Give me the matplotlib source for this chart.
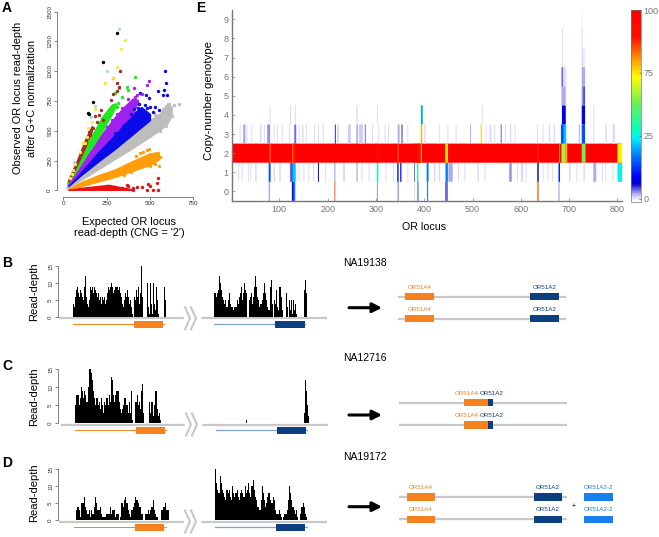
import matplotlib
matplotlib.use("Agg")
import matplotlib.pyplot as plt
import numpy as np
from matplotlib.colors import LinearSegmentedColormap, Normalize
from matplotlib.cm import ScalarMappable

plt.rcParams["font.family"] = ["Liberation Sans", "DejaVu Sans"]

W, H = 659, 537
ORANGE = "#f5821f"
NAVY = "#0b3f80"
LBLUE = "#1a80f0"
GREY = "#c8c8c8"

# --- panel A: envelopes of the dense clouds
gray_x = [20, 100, 200, 300, 400, 500, 560, 600, 625]
gray_lo = [15, 85, 175, 265, 355, 450, 510, 560, 640]
gray_hi = [30, 125, 240, 350, 470, 590, 650, 730, 700]
orange_x = [30, 100, 200, 300, 400, 500, 550]
orange_lo = [8, 35, 75, 115, 165, 215, 260]
orange_hi = [18, 65, 125, 175, 245, 310, 320]
red_x = [30, 100, 200, 260, 320, 400]
red_hi = [5, 20, 36, 46, 30, 8]
blue_x = [30, 100, 200, 300, 400, 450, 500]
blue_lo = [36, 125, 240, 350, 470, 530, 590]
blue_hi = [50, 170, 340, 490, 640, 700, 640]
purple_x = [25, 100, 200, 300, 350, 400, 430]
purple_lo = [40, 165, 335, 485, 570, 640, 740]
purple_hi = [60, 215, 430, 620, 700, 770, 760]
green_x = [25, 80, 130, 180, 230, 280, 300]
green_lo = [58, 175, 290, 395, 510, 640, 700]
green_hi = [75, 215, 365, 500, 630, 720, 730]
brown_x = [30, 80, 130, 165]
brown_lo = [75, 215, 375, 500]
brown_hi = [90, 255, 440, 540]

blue_pts = [(589, 1000), (593, 899), (548, 837), (581, 843), (577, 800), (596, 800), (477, 800), (497, 773),
            (443, 815), (500, 703), (529, 703), (554, 675), (439, 725), (462, 647), (419, 647), (480, 690),
            (430, 690), (445, 660), (410, 680), (390, 640), (470, 720), (350, 550), (300, 480), (515, 660)]
purple_pts = [(496, 921), (485, 885), (408, 857), (452, 809), (414, 787), (385, 731), (356, 689), (400, 760),
              (375, 770), (340, 690), (310, 640), (280, 590), (250, 530), (425, 800)]
green_pts = [(414, 955), (366, 871), (375, 843), (323, 857), (298, 815), (337, 781), (318, 731), (288, 689),
             (269, 647), (300, 720), (310, 700), (255, 620), (225, 610), (205, 540), (170, 470), (150, 410)]
brown_pts = [(327, 1003), (288, 941), (308, 905), (323, 866), (308, 838), (288, 809), (273, 759), (215, 675),
             (208, 633), (227, 591), (193, 577), (173, 521), (154, 465), (100, 310), (185, 620), (150, 490),
             (60, 180)]
yellow_pts = [(356, 1263), (333, 1185), (312, 1033), (240, 899), (284, 941), (182, 680), (164, 577), (145, 521),
              (135, 446), (125, 395), (58, 172), (39, 102), (50, 140), (115, 400), (95, 320), (70, 225)]
black_pts = [(308, 1319), (231, 1081), (169, 745), (144, 647), (150, 641)]
lblue_pts = [(323, 1353), (250, 1003), (183, 708), (158, 613), (62, 240)]
gray_pts = [(670, 725), (640, 720), (610, 725), (620, 680), (625, 620), (590, 540), (560, 500), (575, 680),
            (530, 640), (610, 600)]
orange_pts = [(495, 350), (480, 335), (540, 300), (560, 280), (550, 200), (530, 225), (440, 310), (460, 320),
              (420, 290), (500, 200), (470, 210), (390, 150), (350, 130)]
red_pts = [(548, 101), (538, 59), (490, 50), (500, 36), (452, 31), (404, 22), (365, 45), (375, 39), (423, 31),
           (548, 3), (480, 3), (519, 3), (404, 3), (300, 30), (340, 20)]

# --- panels B-D: read depth per bin
b_left = [4, 3, 6, 8, 9, 7, 6, 8, 7, 6, 5, 9, 12, 6, 4, 3, 5, 9, 8, 9, 7, 9, 8, 7, 6, 7, 5, 6, 4, 6, 5, 6, 4, 5, 7,
          9, 8, 9, 10, 9, 7, 8, 9, 9, 9, 8, 9, 7, 6, 4, 3, 5, 7, 6, 8, 6, 4, 5, 3, 1, 0, 6, 5, 8, 6, 9, 4, 7, 16,
          6, 0, 0, 0, 0, 10, 3, 1, 10, 4, 1, 10, 4, 2, 9, 5, 1, 0, 0, 0, 0, 0, 9, 5]
b_right = [7, 7, 6, 7, 8, 12, 10, 8, 6, 5, 4, 5, 3, 3, 5, 7, 4, 3, 3, 2, 3, 3, 3, 5, 4, 6, 7, 9, 5, 7, 10, 8, 7, 0,
           0, 5, 6, 7, 4, 6, 9, 12, 9, 6, 5, 3, 4, 4, 5, 7, 10, 7, 5, 3, 2, 2, 9, 11, 4, 0, 5, 4, 8, 3, 2, 9, 6, 2,
           0, 0, 0, 7, 3, 0, 5, 2, 5, 1, 5, 2, 4, 1, 0, 0, 0, 0, 0, 0, 0, 8, 11, 7]
c_left = [5, 8, 8, 5, 7, 10, 9, 7, 9, 8, 6, 10, 16, 15, 14, 12, 9, 7, 5, 7, 5, 6, 4, 7, 5, 3, 6, 5, 7, 5, 8, 6, 13,
          12, 8, 6, 8, 9, 9, 6, 4, 3, 4, 5, 7, 7, 5, 3, 6, 3, 9, 1, 0, 0, 6, 8, 5, 6, 4, 9, 11, 3, 0, 0, 0, 0, 6,
          3, 6, 6, 2, 5, 9, 4, 2, 3, 1]
c_right_pos = [30, 88, 89, 90, 91, 92]
c_right_val = [1, 3, 12, 9, 5, 2]
d_left = [3, 4, 3, 1, 5, 5, 7, 4, 3, 2, 3, 1, 3, 2, 4, 7, 5, 3, 3, 4, 2, 1, 1, 1, 2, 2, 2, 4, 2, 3, 3, 1, 2, 2, 0,
          1, 5, 4, 6, 7, 5, 3, 2, 1, 3, 4, 5, 7, 6, 5, 4, 4, 2, 0, 0, 2, 2, 3, 2, 3, 4, 6, 3, 2, 1, 0, 0, 0, 3, 4,
          4, 5, 3, 3]
d_right = [15, 11, 9, 8, 13, 11, 9, 8, 7, 6, 9, 8, 9, 7, 6, 10, 8, 7, 8, 9, 7, 6, 8, 9, 8, 7, 10, 8, 9, 11, 8, 7,
           10, 12, 9, 7, 6, 4, 4, 3, 6, 10, 8, 6, 4, 5, 7, 8, 6, 5, 5, 7, 6, 3, 2, 2, 3, 2, 1, 0, 1, 2, 2, 3, 6,
           10, 8, 6, 4, 3, 2, 3, 1, 0, 0, 2, 4, 5, 4, 2, 1, 0]
depth_ticks = [0, 5, 10, 15]

# --- panel E: (first locus, last locus, position on the colour bar 0-100)
row0 = [(78, 80, 4), (126, 129, 12), (130, 132, 24), (214, 215, 80), (302, 303, 5), (345, 346, 6), (379, 380, 2),
        (386, 387, 20), (406, 407, 22), (443, 448, 6), (634, 636, 78), (678, 679, 5)]
row1 = [(15, 16, 2), (22, 23, 2), (35, 36, 2), (40, 41, 2), (50, 52, 2), (78, 81, 20), (88, 90, 2), (100, 102, 2),
        (122, 124, 6), (125, 127, 12), (127, 133, 30), (140, 141, 2), (150, 151, 2), (160, 161, 2), (170, 171, 2),
        (180, 181, 9), (195, 196, 2), (214, 215, 5), (232, 235, 2), (260, 261, 5), (270, 271, 2), (285, 286, 2),
        (302, 304, 36), (320, 321, 2), (335, 336, 2), (344, 346, 16), (350, 352, 8), (365, 366, 2), (379, 380, 6),
        (385, 387, 44), (405, 408, 24), (420, 422, 2), (430, 432, 2), (444, 448, 24), (450, 458, 4), (470, 471, 2),
        (483, 484, 2), (510, 512, 2), (525, 526, 2), (576, 580, 5), (592, 593, 2), (600, 604, 2), (610, 611, 2),
        (634, 636, 9), (645, 646, 2), (655, 656, 2), (665, 666, 2), (678, 680, 16), (700, 702, 2), (715, 716, 2),
        (730, 731, 3), (750, 755, 4), (768, 769, 2), (775, 776, 2), (790, 791, 2), (800, 810, 34)]
row2 = [(0, 810, 100), (80, 81, 75), (127, 128, 74), (130, 132, 85), (215, 216, 90), (260, 261, 92), (302, 304, 86),
        (345, 346, 78), (379, 380, 88), (385, 392, 90), (393, 394, 70), (405, 406, 88), (443, 444, 72), (445, 448, 66),
        (517, 518, 88), (634, 636, 84), (679, 680, 76), (684, 692, 56), (693, 695, 72), (726, 733, 52), (800, 810, 66)]
row3 = [(18, 19, 2), (25, 29, 4), (32, 33, 2), (42, 43, 2), (60, 62, 2), (68, 69, 2), (75, 80, 5), (88, 89, 2),
        (95, 96, 2), (105, 106, 2), (120, 121, 2), (131, 134, 6), (140, 141, 2), (147, 149, 2), (155, 156, 2),
        (172, 173, 2), (180, 181, 2), (190, 191, 2), (215, 216, 8), (220, 222, 3), (242, 247, 3), (260, 261, 6),
        (265, 272, 3), (277, 278, 6), (292, 293, 2), (305, 306, 2), (318, 319, 2), (325, 326, 2), (345, 348, 4),
        (352, 355, 5), (365, 366, 2), (393, 395, 72), (400, 402, 2), (430, 431, 2), (448, 449, 2), (465, 466, 2),
        (495, 496, 4), (517, 518, 70), (527, 528, 2), (535, 538, 2), (545, 546, 2), (558, 560, 5), (567, 568, 2),
        (578, 579, 3), (587, 588, 2), (633, 634, 2), (645, 646, 2), (658, 660, 2), (668, 670, 2), (683, 688, 20),
        (689, 693, 30), (720, 721, 4), (726, 732, 20), (750, 751, 2), (775, 777, 2), (790, 794, 2)]
row4 = [(80, 81, 2), (122, 123, 2), (132, 133, 2), (260, 261, 3), (302, 303, 2), (393, 396, 28), (519, 520, 2),
        (685, 692, 11), (726, 732, 11), (750, 751, 2)]
row5 = [(684, 692, 4), (693, 694, 1), (726, 729, 5), (729, 732, 7)]
row6 = [(684, 687, 6), (688, 692, 2), (693, 695, 1), (726, 732, 4)]
row7 = [(685, 686, 2), (726, 729, 2), (730, 733, 1)]
row8 = [(685, 686, 2), (726, 727, 2)]
row9 = [(726, 727, 1)]
heat_rows = [row0, row1, row2, row3, row4, row5, row6, row7, row8, row9]
locus_ticks = [100, 200, 300, 400, 500, 600, 700, 800]
bar_ticks = [0, 33.3, 66.7, 100]
bar_labels = ["0", "25", "75", "100"]

cn_cmap = LinearSegmentedColormap.from_list("cn", [
    (0.00, "#ffffff"), (0.03, "#c8c8f2"), (0.06, "#6868e4"), (0.09, "#0000d8"), (0.13, "#0000ff"),
    (0.26, "#0090ff"), (0.33, "#00f0ff"), (0.37, "#00ffc0"), (0.52, "#70f050"), (0.65, "#ffff00"),
    (0.75, "#ff9000"), (0.86, "#ff1000"), (1.00, "#ff0000")])


def px_axes(left, top, right, bottom):
    return fig.add_axes([left / W, 1 - bottom / H, (right - left) / W, (bottom - top) / H])


fig = plt.figure(figsize=(W / 100, H / 100), dpi=100)

# overlay in pixel coordinates for the schematic parts
bg = fig.add_axes([0, 0, 1, 1])
bg.set_xlim(0, W)
bg.set_ylim(H, 0)
bg.axis("off")

# ---------- A ----------
ax = px_axes(63.3, 11.7, 193.3, 190.3)
ax.set_xlim(0, 750)
ax.set_ylim(0, 1500)
ax.fill_between(orange_x, orange_lo, orange_hi, color="#ff9e0a", lw=1.2, zorder=2)
ax.fill_between(red_x, 0, red_hi, color="#ee1111", lw=1.0, zorder=3)
ax.fill_between(gray_x, gray_lo, gray_hi, color="#bdbdbd", lw=1.0, zorder=3)
ax.fill_between(blue_x, blue_lo, blue_hi, color="#0b0bea", lw=1.0, zorder=4)
ax.fill_between(purple_x, purple_lo, purple_hi, color="#a020f0", lw=1.0, zorder=5)
ax.fill_between(green_x, green_lo, green_hi, color="#22e61e", lw=1.0, zorder=6)
ax.fill_between(brown_x, brown_lo, brown_hi, color="#a52a2a", lw=1.0, zorder=7)
for pts, col in [(gray_pts, "#bdbdbd"), (orange_pts, "#ff9e0a"), (red_pts, "#dd1515"), (blue_pts, "#0b0bea"),
                 (purple_pts, "#a020f0"), (green_pts, "#22e61e"), (brown_pts, "#a52a2a"), (yellow_pts, "#ffe83c"),
                 (lblue_pts, "#a8dcec"), (black_pts, "black")]:
    xy = np.array(pts)
    ax.scatter(xy[:, 0], xy[:, 1], s=6, color=col, lw=0, zorder=8, clip_on=False)
for s in ["top", "right"]:
    ax.spines[s].set_visible(False)
for s in ["left", "bottom"]:
    ax.spines[s].set_position(("outward", 4.5))
    ax.spines[s].set_linewidth(0.5)
    ax.spines[s].set_color("#555555")
ax.set_xticks([0, 250, 500, 750])
ax.set_yticks([0, 250, 500, 750, 1000, 1250, 1500])
ax.tick_params(length=2, width=0.5, labelsize=4.5, pad=1.5, color="#555555", labelcolor="#333333")
for t in ax.get_yticklabels():
    t.set_rotation(90)
    t.set_va("center")
bg.text(18, 98, "Observed OR locus read-depth", rotation=90, ha="center", va="center", fontsize=7.9)
bg.text(32, 98, "after G+C normalization", rotation=90, ha="center", va="center", fontsize=7.9)
bg.text(129, 222, "Expected OR locus", ha="center", va="center", fontsize=7.9)
bg.text(129, 233.5, "read-depth (CNG = '2')", ha="center", va="center", fontsize=7.9)

# ---------- E ----------
ax = px_axes(232.3, 10, 622.3, 201.3)
norm = Normalize(0, 100)
for i, row in enumerate(heat_rows):
    for first, last, pct in row:
        ax.broken_barh([(first, last - first + 1)], (i - 0.5, 1), facecolors=cn_cmap(norm(pct)), lw=0, snap=False)
ax.set_xlim(2.7, 810)
ax.set_ylim(-0.52, 9.49)
for s in ["top", "right"]:
    ax.spines[s].set_visible(False)
for s in ["left", "bottom"]:
    ax.spines[s].set_color("#777777")
    ax.spines[s].set_linewidth(1.0)
ax.set_xticks(locus_ticks)
ax.set_yticks(range(10))
ax.tick_params(direction="in", length=2.5, width=0.5, color="#888888", labelcolor="#777777", labelsize=6.5, pad=2.5)
bg.text(209, 100, "Copy-number genotype", rotation=90, ha="center", va="center", fontsize=8.2)
bg.text(424, 227, "OR locus", ha="center", va="center", fontsize=7.7)

cax = px_axes(630.7, 10, 641, 201.7)
cb = fig.colorbar(ScalarMappable(Normalize(-1.6, 100), cn_cmap), cax=cax)
cb.set_ticks(bar_ticks, labels=bar_labels)
cb.ax.tick_params(direction="in", length=1.5, width=0.5, labelsize=6.5, labelcolor="#777777", color="#555555", pad=2)
cb.outline.set_linewidth(0.5)
cb.outline.set_edgecolor("#777777")


# ---------- B, C, D ----------
def track(base, top, x_left, span_left, x_right, span_right, left_vals, right_vals, right_pos=None):
    tr = px_axes(58, top, 327, base)
    tr.set_xlim(58, 327)
    tr.set_ylim(0, 15)
    w = span_left / len(left_vals)
    tr.bar(x_left + w * np.arange(len(left_vals)), left_vals, width=w, color="black", lw=0, align="edge", zorder=3)
    if right_pos is None:
        w = span_right / len(right_vals)
        pos = w * np.arange(len(right_vals))
    else:
        w = 1.0
        pos = np.array(right_pos)
    tr.bar(x_right + pos, right_vals, width=w, color="black", lw=0, align="edge", zorder=3)
    tr.patch.set_visible(False)
    for s in ["top", "right", "bottom"]:
        tr.spines[s].set_visible(False)
    tr.spines["left"].set_linewidth(0.5)
    tr.spines["left"].set_color("#555555")
    tr.set_xticks([])
    tr.set_yticks(depth_ticks)
    tr.tick_params(length=2, width=0.5, labelsize=4.5, pad=1.5, color="#555555", labelcolor="#333333")
    for t in tr.get_yticklabels():
        t.set_rotation(90)
        t.set_va("center")


track(317.3, 266, 73.3, 92.3, 214, 92.7, b_left, b_right)
track(423.3, 369.3, 75.3, 85.7, 216, 0, c_left, c_right_val, c_right_pos)
track(520.3, 469.3, 76, 93, 215, 93.3, d_left, d_right)

for y, off in [(318.3, 0), (424.5, 2), (521.5, 0)]:
    bg.plot([59 + off, 327 + off / 2], [y, y], color=GREY, lw=1.6, solid_capstyle="butt")
    cx = 186 + off / 2
    bg.fill_between([cx - 2, cx + 14], y - 3, y + 3, color="white", zorder=2)
    for d in [0, 6]:
        bg.plot([cx + d - 1, cx + d + 4, cx + d - 1], [y - 11, y, y + 11], color=GREY, lw=1.5, zorder=3)

for y, x0, x1, bx0, bx1 in [(324.3, 73, 164, 134, 163.3), (430.3, 75, 166, 136, 165), (527.3, 74, 166, 135, 163.7)]:
    bg.plot([x0, x1], [y, y], color=ORANGE, lw=0.7)
    bg.fill_between([bx0, bx1], y - 3.5, y + 3.5, color=ORANGE, lw=0, zorder=3)
    d = 141.3
    bg.plot([x0 + d, x1 + d], [y, y], color="#7fa0c8", lw=0.9)
    bg.fill_between([bx0 + d, bx1 + d], y - 3.5, y + 3.5, color=NAVY, lw=0, zorder=3)

for x, y, s in [(7, 8, "A"), (201, 8, "E"), (7, 263, "B"), (7, 366, "C"), (7, 463, "D")]:
    bg.text(x, y, s, ha="center", va="center", fontsize=10, fontweight="bold")
for y in [292, 397, 493]:
    bg.text(34, y, "Read-depth", rotation=90, ha="center", va="center", fontsize=8)


# ---------- right hand schematics ----------
def gene_pair(ys, x0, x1, boxes, labels, lab_dy=-9.3):
    for y in ys:
        bg.plot([x0, x1], [y, y], color=GREY, lw=1.6, solid_capstyle="butt", zorder=2)
        for a, b, c in boxes:
            bg.fill_between([a, b], y - 3.7, y + 3.7, color=c, lw=0, zorder=3)
        for lx, txt, c in labels:
            bg.text(lx, y + lab_dy, txt, ha="center", va="center", fontsize=4.5, color=c)


gene_pair([296.7, 318.7], 398, 565.7,
          [(405.3, 434, ORANGE), (530, 559, NAVY)],
          [(420, "OR51A4", ORANGE), (545, "OR51A2", NAVY)])
gene_pair([402.7, 425], 398.7, 566.7,
          [(464, 488, ORANGE), (488, 492.7, NAVY)],
          [(467.3, "OR51A4-", ORANGE), (491.3, "OR51A2", NAVY)])
gene_pair([497, 519.3], 399, 567,
          [(406.7, 435.3, ORANGE), (533.7, 562.3, NAVY), (584.3, 612.7, LBLUE)],
          [(421, "OR51A4", ORANGE), (547.5, "OR51A2", NAVY), (598.5, "OR51A2-2", LBLUE)])
bg.text(573.3, 506.5, "+", ha="center", va="center", fontsize=5)

for y in [307.7, 415, 506.7]:
    bg.annotate("", xy=(382, y), xytext=(349, y),
                arrowprops=dict(arrowstyle="-|>,head_width=0.28,head_length=0.55", color="black", lw=2.2,
                                shrinkA=0, shrinkB=0))
for y, s in [(262.7, "NA19138"), (357.7, "NA12716"), (457.3, "NA19172")]:
    bg.text(365, y, s, ha="center", va="center", fontsize=7.5)

fig.savefig("out.png", dpi=100)
